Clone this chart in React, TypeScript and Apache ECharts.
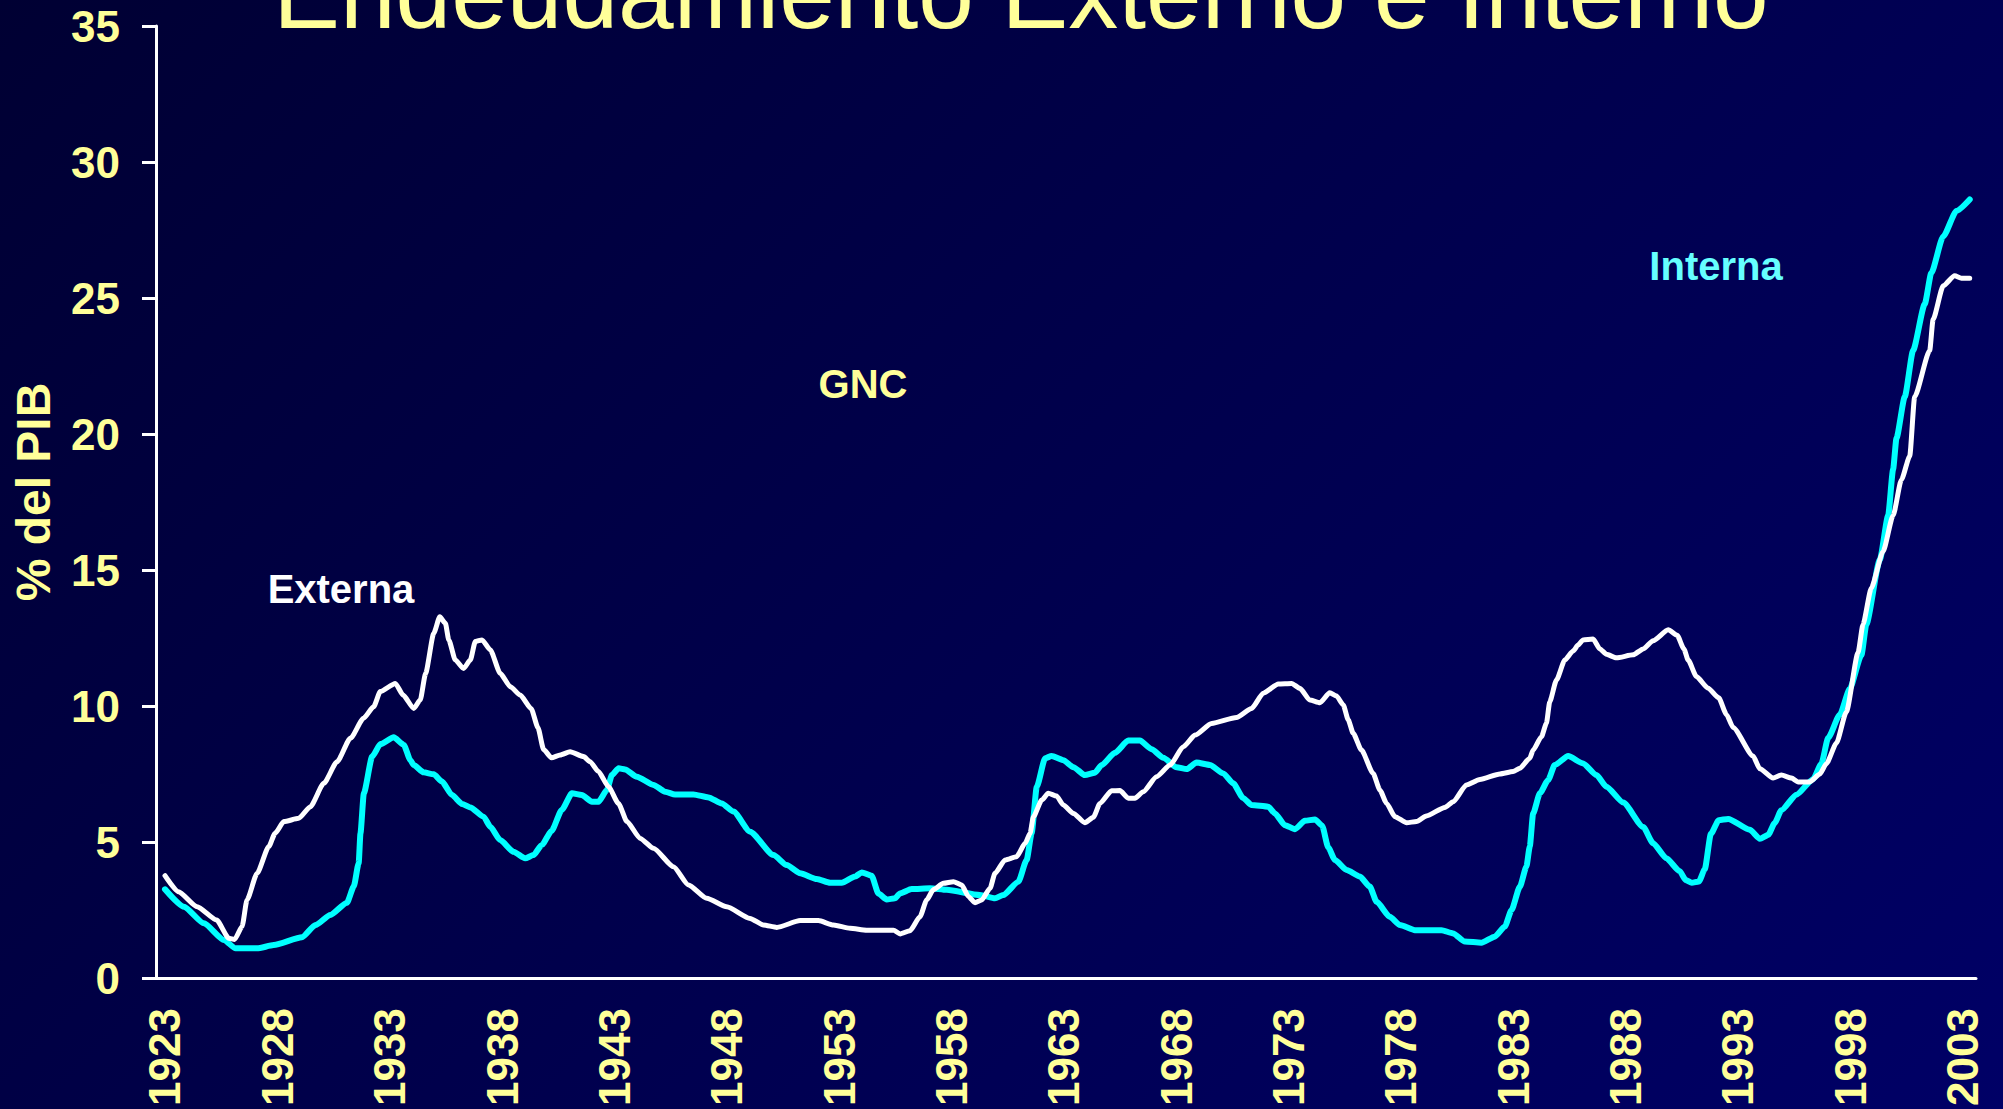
import React, { useEffect, useRef } from "react";
import * as echarts from "echarts";

const TITLE = "Endeudamiento Externo e Interno";
const Y_AXIS_NAME = "% del PIB";
const LABEL_EXTERNA = "Externa";
const LABEL_INTERNA = "Interna";
const LABEL_GNC = "GNC";

const YEAR_TICKS = [1923, 1928, 1933, 1938, 1943, 1948, 1953, 1958, 1963, 1968, 1973, 1978, 1983, 1988, 1993, 1998, 2003];
const Y_MIN = 0;
const Y_MAX = 35;
const Y_STEP = 5;

const EXTERNA_YEARS = [
  1923.0, 1923.6, 1924.43, 1925.3, 1925.84, 1926.1, 1926.43, 1926.65, 1927.1, 1927.62, 1927.9, 1928.29, 1928.95,
  1929.47, 1930.07, 1930.66, 1931.25, 1931.84, 1932.29, 1932.58, 1933.25, 1933.6, 1934.07, 1934.36, 1934.6, 1934.96,
  1935.23, 1935.48, 1935.63, 1935.92, 1936.29, 1936.59, 1936.81, 1937.11, 1937.48, 1937.92, 1938.37, 1938.81, 1939.3,
  1939.6, 1939.85, 1940.2, 1940.59, 1941.03, 1941.63, 1941.92, 1942.29, 1942.74, 1943.18, 1943.56, 1944.15, 1944.74,
  1945.63, 1946.3, 1947.11, 1948.0, 1949.04, 1949.63, 1950.23, 1951.27, 1952.08, 1952.75, 1953.49, 1954.23, 1955.42,
  1955.72, 1956.16, 1956.6, 1956.9, 1957.2, 1957.64, 1958.09, 1958.46, 1958.76, 1959.05, 1959.35, 1959.72, 1959.94,
  1960.39, 1960.9, 1961.28, 1961.5, 1961.65, 1962.02, 1962.31, 1962.68, 1962.98, 1963.43, 1963.94, 1964.32, 1964.61,
  1965.13, 1965.5, 1965.87, 1966.17, 1966.54, 1967.13, 1967.73, 1968.32, 1968.84, 1969.58, 1970.69, 1971.36, 1971.88,
  1972.55, 1973.14, 1973.51, 1973.95, 1974.4, 1974.84, 1975.14, 1975.44, 1975.66, 1975.88, 1976.25, 1976.77, 1977.07,
  1977.37, 1977.74, 1978.26, 1978.7, 1979.14, 1979.96, 1980.33, 1980.92, 1981.52, 1982.41, 1983.0, 1983.3, 1983.74,
  1983.89, 1984.26, 1984.48, 1984.63, 1984.93, 1985.3, 1985.67, 1985.89, 1986.11, 1986.56, 1986.86, 1987.15, 1987.6,
  1988.34, 1988.79, 1989.23, 1989.9, 1990.3, 1990.6, 1990.79, 1991.16, 1991.68, 1992.15, 1992.5, 1992.79, 1993.68,
  1993.98, 1994.57, 1994.94, 1995.39, 1995.68, 1996.2, 1996.65, 1996.94, 1997.39, 1997.83, 1998.35, 1998.57, 1998.94,
  1999.46, 1999.91, 2000.28, 2000.65, 2000.87, 2001.54, 2001.69, 2002.14, 2002.65, 2002.95, 2003.32,
];
const EXTERNA_VALUES = [
  3.76, 3.17, 2.62, 2.13, 1.46, 1.42, 1.89, 2.87, 3.85, 4.83, 5.32, 5.75, 5.87,
  6.3, 7.16, 7.95, 8.81, 9.55, 9.98, 10.53, 10.83, 10.4, 9.91, 10.22, 11.2, 12.67,
  13.28, 13.04, 12.43, 11.69, 11.38, 11.69, 12.37, 12.43, 12.06, 11.2, 10.71, 10.4, 9.9,
  9.2, 8.4, 8.1, 8.2, 8.32, 8.14, 7.95, 7.59, 7.03, 6.42, 5.75, 5.13, 4.77,
  4.09, 3.42, 2.93, 2.62, 2.19, 1.95, 1.86, 2.11, 2.11, 1.95, 1.83, 1.76, 1.76,
  1.62, 1.74, 2.25, 2.87, 3.25, 3.48, 3.54, 3.42, 2.99, 2.77, 2.87, 3.3, 3.85,
  4.34, 4.46, 4.95, 5.32, 5.93, 6.54, 6.79, 6.69, 6.36, 6.05, 5.71, 5.91, 6.42,
  6.88, 6.89, 6.61, 6.61, 6.85, 7.4, 7.83, 8.5, 8.93, 9.36, 9.58, 9.91, 10.47,
  10.81, 10.83, 10.65, 10.22, 10.12, 10.49, 10.37, 10.04, 9.49, 9.0, 8.38, 7.52, 6.91,
  6.42, 5.93, 5.71, 5.75, 5.96, 6.27, 6.48, 7.1, 7.3, 7.5, 7.59, 7.71, 8.08,
  8.38, 8.87, 9.36, 10.16, 10.96, 11.69, 12.02, 12.24, 12.43, 12.46, 12.1, 11.9, 11.77,
  11.88, 12.1, 12.4, 12.8, 12.6, 12.1, 11.69, 11.08, 10.65, 10.3, 9.68, 9.21, 8.16,
  7.69, 7.35, 7.46, 7.35, 7.21, 7.21, 7.5, 7.88, 8.64, 9.78, 11.96, 13.0, 14.34,
  15.67, 17.0, 18.32, 19.18, 21.37, 23.07, 24.21, 25.45, 25.82, 25.73, 25.73,
];

const INTERNA_YEARS = [
  1923.0, 1923.84, 1924.73, 1925.62, 1926.14, 1927.1, 1927.84, 1929.1, 1929.7, 1930.36, 1931.1, 1931.4, 1931.62,
  1931.7, 1931.85, 1932.22, 1932.59, 1933.18, 1933.63, 1933.92, 1934.07, 1934.51, 1934.96, 1935.33, 1935.77, 1936.22,
  1936.59, 1937.18, 1937.48, 1937.92, 1938.51, 1939.03, 1939.4, 1939.77, 1940.2, 1940.66, 1941.11, 1941.55, 1942.0,
  1942.29, 1942.67, 1942.89, 1943.19, 1943.48, 1944.0, 1944.74, 1945.26, 1945.7, 1946.52, 1947.19, 1947.78, 1948.3,
  1949.04, 1950.08, 1950.67, 1951.27, 1952.01, 1952.6, 1953.12, 1953.71, 1954.01, 1954.45, 1954.75, 1955.12, 1955.49,
  1955.71, 1956.23, 1957.05, 1957.79, 1959.27, 1959.94, 1960.31, 1960.98, 1961.35, 1961.57, 1961.8, 1962.17, 1962.46,
  1962.98, 1963.43, 1963.94, 1964.39, 1964.69, 1965.28, 1965.87, 1966.39, 1966.91, 1967.43, 1968.02, 1968.47, 1968.91,
  1969.51, 1970.1, 1970.54, 1970.99, 1971.36, 1972.1, 1972.4, 1972.84, 1973.29, 1973.73, 1974.18, 1974.5, 1974.77,
  1975.07, 1975.59, 1976.18, 1976.62, 1976.92, 1977.51, 1977.96, 1978.63, 1979.81, 1980.33, 1980.85, 1981.59, 1982.18,
  1982.63, 1982.93, 1983.3, 1983.59, 1983.74, 1983.89, 1984.19, 1984.56, 1984.85, 1985.45, 1986.11, 1986.71, 1987.15,
  1987.9, 1988.79, 1989.23, 1989.82, 1990.41, 1990.68, 1990.95, 1991.27, 1991.53, 1991.8, 1992.15, 1992.57, 1993.53,
  1993.98, 1994.35, 1994.64, 1994.94, 1995.61, 1996.35, 1996.72, 1997.02, 1997.54, 1997.98, 1998.5, 1998.72, 1999.32,
  1999.69, 1999.91, 2000.06, 2000.43, 2000.8, 2001.32, 2001.61, 2002.14, 2002.73, 2003.32,
];
const INTERNA_VALUES = [
  3.26, 2.62, 2.01, 1.4, 1.09, 1.09, 1.21, 1.5, 1.95, 2.32, 2.77, 3.36, 4.22,
  5.32, 6.79, 8.14, 8.6, 8.85, 8.57, 8.01, 7.83, 7.56, 7.49, 7.22, 6.73, 6.4,
  6.27, 5.93, 5.56, 5.07, 4.64, 4.4, 4.52, 4.89, 5.4, 6.18, 6.79, 6.73, 6.48,
  6.48, 6.91, 7.46, 7.71, 7.67, 7.4, 7.1, 6.85, 6.75, 6.75, 6.64, 6.42, 6.12,
  5.38, 4.52, 4.15, 3.85, 3.64, 3.5, 3.5, 3.73, 3.88, 3.76, 3.11, 2.89, 2.93,
  3.11, 3.27, 3.3, 3.24, 3.05, 2.93, 3.05, 3.54, 4.34, 5.32, 7.03, 8.08, 8.16,
  8.01, 7.75, 7.46, 7.55, 7.83, 8.28, 8.73, 8.73, 8.41, 8.1, 7.75, 7.68, 7.92,
  7.83, 7.52, 7.16, 6.61, 6.36, 6.3, 6.05, 5.62, 5.47, 5.78, 5.83, 5.6, 4.8,
  4.34, 3.97, 3.73, 3.36, 2.81, 2.25, 1.95, 1.76, 1.76, 1.64, 1.34, 1.3, 1.52,
  1.89, 2.5, 3.36, 4.09, 4.83, 6.05, 6.79, 7.28, 7.83, 8.16, 7.89, 7.46, 7.03,
  6.45, 5.55, 4.95, 4.4, 3.93, 3.6, 3.5, 3.55, 4.0, 5.3, 5.8, 5.85, 5.45,
  5.12, 5.26, 5.7, 6.17, 6.74, 7.31, 7.88, 8.83, 9.68, 10.63, 11.87, 13.0, 15.38,
  17.0, 18.7, 19.84, 21.37, 23.07, 24.78, 25.92, 27.26, 28.2, 28.62,
];

const FONT = '"Liberation Sans", Arial, Helvetica, sans-serif';
const YELLOW = "#FFFF99";

function zip(xs: number[], ys: number[]): [number, number][] {
  return xs.map((x, i) => [x, ys[i]]);
}

export default function App() {
  const ref = useRef<HTMLDivElement>(null);

  useEffect(() => {
    if (!ref.current) return;
    const chart = echarts.init(ref.current, undefined, { renderer: "svg" });
    const option: any = {
      animation: false,
      backgroundColor: "transparent",
      textStyle: { fontFamily: FONT },
      grid: {
        left: 156,
        right: 27,
        top: 26,
        bottom: 131,
        containLabel: false,
        outerBoundsMode: "none",
      },
      xAxis: {
        type: "value",
        min: 1922.6,
        max: 2003.6,
        splitLine: { show: false },
        axisLine: { show: true, onZero: false, lineStyle: { color: "#FFFFFF", width: 3 } },
        axisTick: { show: false },
        axisLabel: {
          customValues: YEAR_TICKS,
          rotate: 90,
          margin: 30,
          color: YELLOW,
          fontSize: 44,
          fontWeight: "bold",
          fontFamily: FONT,
          formatter: (v: number) => String(Math.round(v)),
        },
      },
      yAxis: {
        type: "value",
        min: Y_MIN,
        max: Y_MAX,
        interval: Y_STEP,
        splitLine: { show: false },
        axisLine: { show: true, lineStyle: { color: "#FFFFFF", width: 3 } },
        axisTick: { show: true, length: 14, lineStyle: { color: "#FFFFFF", width: 3 } },
        axisLabel: {
          margin: 36,
          color: YELLOW,
          fontSize: 44,
          fontWeight: "bold",
          fontFamily: FONT,
        },
      },
      series: [
        {
          name: LABEL_INTERNA,
          type: "line",
          data: zip(INTERNA_YEARS, INTERNA_VALUES),
          showSymbol: false,
          symbol: "none",
          smooth: 0.2,
          smoothMonotone: "x",
          lineStyle: { color: "#00FFFF", width: 6, cap: "round", join: "round" },
          z: 2,
        },
        {
          name: LABEL_EXTERNA,
          type: "line",
          data: zip(EXTERNA_YEARS, EXTERNA_VALUES),
          showSymbol: false,
          symbol: "none",
          smooth: 0.2,
          smoothMonotone: "x",
          lineStyle: { color: "#FFFFFF", width: 5, cap: "round", join: "round" },
          z: 3,
        },
      ],
      graphic: [
        {
          type: "text",
          x: 1021,
          y: -7,
          z: 10,
          style: {
            text: TITLE,
            fill: YELLOW,
            fontFamily: FONT,
            fontSize: 100,
            fontWeight: "normal",
            align: "center",
            verticalAlign: "middle",
            shadowColor: "#000000",
            shadowOffsetX: 3,
            shadowOffsetY: 3,
            shadowBlur: 0,
          },
        },
        {
          type: "text",
          x: 33,
          y: 492,
          rotation: Math.PI / 2,
          style: {
            text: Y_AXIS_NAME,
            fill: YELLOW,
            fontFamily: FONT,
            fontSize: 48,
            fontWeight: "bold",
            align: "center",
            verticalAlign: "middle",
          },
        },
        {
          type: "text",
          x: 341,
          y: 589,
          style: {
            text: LABEL_EXTERNA,
            fill: "#FFFFFF",
            fontFamily: FONT,
            fontSize: 40,
            fontWeight: "bold",
            align: "center",
            verticalAlign: "middle",
          },
        },
        {
          type: "text",
          x: 863,
          y: 384,
          style: {
            text: LABEL_GNC,
            fill: YELLOW,
            fontFamily: FONT,
            fontSize: 40,
            fontWeight: "bold",
            align: "center",
            verticalAlign: "middle",
          },
        },
        {
          type: "text",
          x: 1716,
          y: 266,
          style: {
            text: LABEL_INTERNA,
            fill: "#66FFFF",
            fontFamily: FONT,
            fontSize: 40,
            fontWeight: "bold",
            align: "center",
            verticalAlign: "middle",
          },
        },
      ],
    };
    chart.setOption(option);
    return () => chart.dispose();
  }, []);

  return (
    <div
      ref={ref}
      style={{
        position: "fixed",
        left: 0,
        top: 0,
        width: 2003,
        height: 1109,
        background: "linear-gradient(135deg, #000033 0%, #00004a 45%, #000066 100%)",
      }}
    />
  );
}
